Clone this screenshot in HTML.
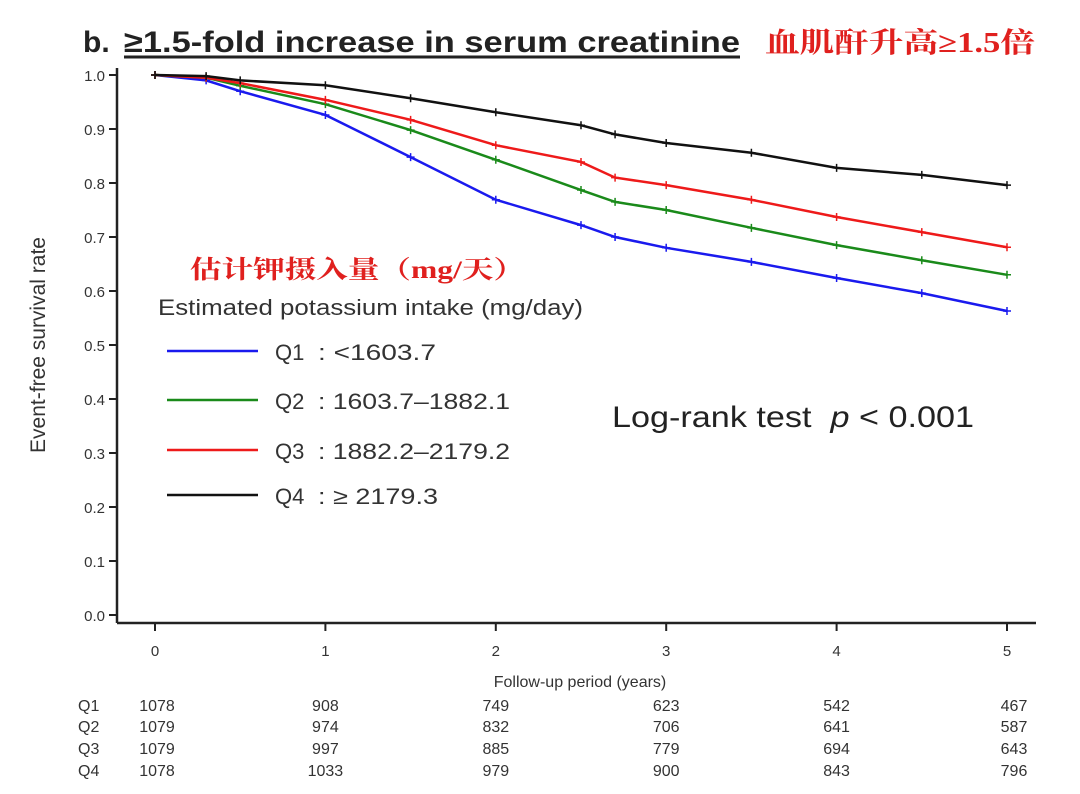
<!DOCTYPE html>
<html><head><meta charset="utf-8"><style>
body{margin:0;background:#fff;width:1080px;height:794px;overflow:hidden;}
svg{display:block;font-family:"Liberation Sans",Arial,sans-serif;}
</style></head><body>
<svg id="chart" width="1080" height="794">
<g id="main"></g>
</svg>
<script>
const years=[0,0.3,0.5,1,1.5,2,2.5,2.7,3,3.5,4,4.5,5];
const q1=[1.0,0.99,0.97,0.926,0.848,0.769,0.722,0.70,0.68,0.654,0.624,0.596,0.563];
const q2=[1.0,0.995,0.98,0.946,0.898,0.843,0.787,0.765,0.75,0.717,0.685,0.657,0.63];
const q3=[1.0,0.995,0.985,0.954,0.917,0.87,0.839,0.81,0.796,0.769,0.737,0.709,0.681];
const q4=[1.0,0.998,0.99,0.981,0.957,0.931,0.907,0.89,0.874,0.856,0.828,0.815,0.796];
const yTicks=["0.0","0.1","0.2","0.3","0.4","0.5","0.6","0.7","0.8","0.9","1.0"];
const xTicks=["0","1","2","3","4","5"];
const riskQ1=[1078,908,749,623,542,467];
const riskQ2=[1079,974,832,706,641,587];
const riskQ3=[1079,997,885,779,694,643];
const riskQ4=[1078,1033,979,900,843,796];
const NS="http://www.w3.org/2000/svg";
const g=document.getElementById('main');
const X=t=>155+t*170.4, Y=v=>615-v*540;
function el(tag,attrs,txt){const e=document.createElementNS(NS,tag);for(const k in attrs)e.setAttribute(k,attrs[k]);if(txt!==undefined)e.textContent=txt;g.appendChild(e);return e;}
let t=el('text',{x:83,y:52,'font-size':30,'font-weight':'bold',fill:'#222'},'b. ');

t=el('text',{x:124,y:52,'font-size':30,'font-weight':'bold',fill:'#222',textLength:616,lengthAdjust:'spacingAndGlyphs'},'≥1.5-fold increase in serum creatinine');

let u=el('line',{x1:124,y1:57,x2:740,y2:57,stroke:'#222','stroke-width':3});

t=el('text',{x:765,y:52,'font-size':28,'font-weight':'bold',fill:'#e0201e','font-family':'"Liberation Serif","Noto Serif CJK SC",serif',textLength:270,lengthAdjust:'spacingAndGlyphs'},'血肌酐升高≥1.5倍');

let a=el('line',{x1:117,y1:68,x2:117,y2:623,stroke:'#222','stroke-width':2.5});

a=el('line',{x1:117,y1:623,x2:1036,y2:623,stroke:'#222','stroke-width':2.5});

yTicks.forEach((s,i)=>{const y=Y(+s);
 const l=el('line',{x1:109,y1:y,x2:117,y2:y,stroke:'#222','stroke-width':2});
 
 const tx=el('text',{x:105,y:y+6,'font-size':15,'text-anchor':'end',fill:'#333'},s);
 });
xTicks.forEach((s,i)=>{const x=X(+s);
 const l=el('line',{x1:x,y1:623,x2:x,y2:631,stroke:'#222','stroke-width':2});
 
 const tx=el('text',{x:x,y:656,'font-size':15,'text-anchor':'middle',fill:'#333'},s);
 });
t=el('text',{x:580,y:687,'font-size':16,'text-anchor':'middle',fill:'#333'},'Follow-up period (years)');

t=el('text',{x:0,y:0,'font-size':21,'text-anchor':'middle',fill:'#333',transform:'translate(45,345) rotate(-90)'},'Event-free survival rate');

const series=[[q1,'#1a1aee','q1'],[q2,'#1a8a1a','q2'],[q3,'#ee1a1a','q3'],[q4,'#111','q4']];
series.forEach(([vals,c,n])=>{
 let d='M'+X(years[0])+','+Y(vals[0]);
 for(let i=1;i<years.length;i++){d+=' L'+X(years[i])+','+Y(vals[i]);}
 const p=el('path',{d:d,fill:'none',stroke:c,'stroke-width':2.5});
 
 vals.forEach((v,i)=>{const x=X(years[i]),y=Y(v);
  const m=el('path',{d:`M${x-4},${y} h8 M${x},${y-4} v8`,stroke:c,'stroke-width':1.5});
  });
});
t=el('text',{x:190,y:278,'font-size':25,'font-weight':'bold',fill:'#e0201e','font-family':'"Liberation Serif","Noto Serif CJK SC",serif',textLength:335,lengthAdjust:'spacingAndGlyphs'},'估计钾摄入量（mg/天）');

t=el('text',{x:158,y:315,'font-size':22,fill:'#333',textLength:425,lengthAdjust:'spacingAndGlyphs'},'Estimated potassium intake (mg/day)');

const legLabels=[['Q1',': <1603.7'],['Q2',': 1603.7–1882.1'],['Q3',': 1882.2–2179.2'],['Q4',': ≥ 2179.3']];
const legW=[118,192,192,120];
const legY=[351,400,450,495];
series.forEach(([v,c,n],i)=>{
 const l=el('line',{x1:167,y1:legY[i],x2:258,y2:legY[i],stroke:c,'stroke-width':2.5});
 
 const a1=el('text',{x:275,y:legY[i]+9,'font-size':22,fill:'#333'},legLabels[i][0]);
 
 const a2=el('text',{x:318,y:legY[i]+9,'font-size':22,fill:'#333',textLength:legW[i],lengthAdjust:'spacingAndGlyphs'},legLabels[i][1]);
 
});
t=el('text',{x:612,y:427,'font-size':30,fill:'#222'});
t.innerHTML='Log-rank test&#160;&#160;<tspan font-style="italic">p</tspan> &lt; 0.001';
t.setAttribute('textLength','362');t.setAttribute('lengthAdjust','spacingAndGlyphs');

const risks=[riskQ1,riskQ2,riskQ3,riskQ4];const rowY=[711,732,754,776];
risks.forEach((r,i)=>{
 const lb=el('text',{x:78,y:rowY[i],'font-size':16,fill:'#333'},'Q'+(i+1));
 
 r.forEach((v,j)=>{const x=j==0?157:X(j)+(j==5?7:0);
  const tx=el('text',{x:x,y:rowY[i],'font-size':16,'text-anchor':'middle',fill:'#333'},v);
  });
});
</script>
</body></html>
